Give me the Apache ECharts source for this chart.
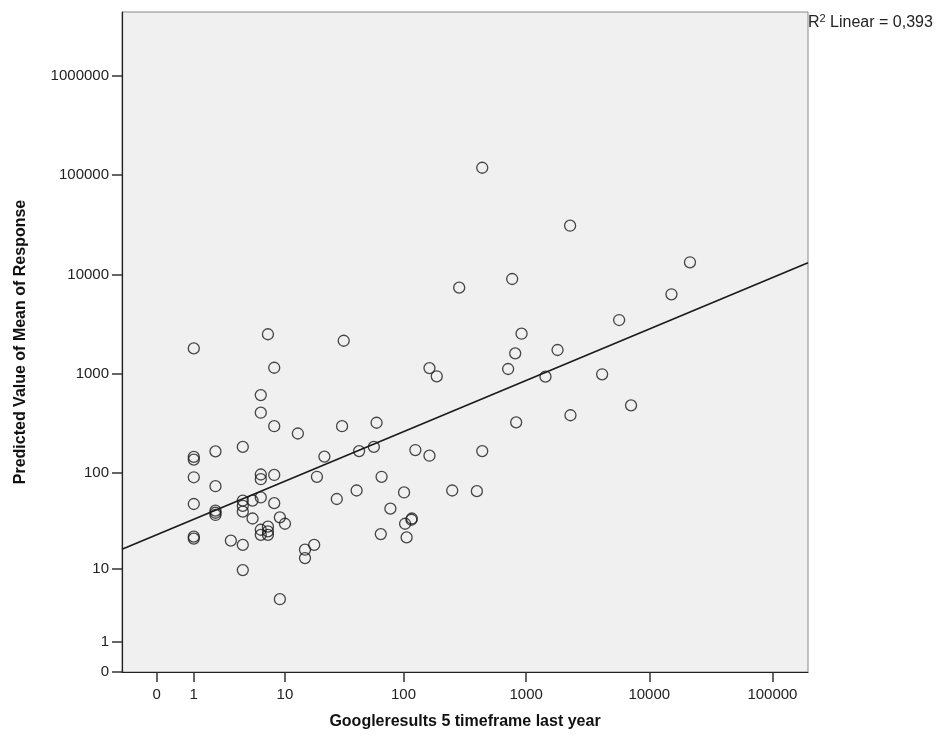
<!DOCTYPE html>
<html>
<head>
<meta charset="utf-8">
<script src="https://cdn.jsdelivr.net/npm/echarts@6/dist/echarts.min.js"></script>
<style>
html,body{margin:0;padding:0;background:#fff;}
#chart{width:940px;height:746px;}
</style>
</head>
<body>
<div id="chart"></div>
<script>
// raw values (both axes drawn as log10(v+1))
var googleResults = [1, 7, 32, 8, 6, 6, 8, 13, 31, 60, 163, 187, 4, 2, 1, 1, 1, 1, 1, 1,
    2, 2, 2, 2, 4, 4, 4, 5, 6, 6, 6, 8, 8, 5, 9, 10, 6, 6, 7, 7,
    7, 3, 4, 4, 9, 15, 15, 18, 22, 19, 28, 41, 43, 57, 66, 78, 65, 101, 103, 116,
    117, 106, 125, 163, 250, 397, 439, 439, 2274, 285, 769, 21400, 15140, 5690, 917, 814, 713, 1798, 1435, 4140,
    7110, 2290, 829];
var predictedMean = [1800, 2500, 2150, 1150, 610, 405, 296, 250, 296, 321, 1140, 943, 183, 165, 145, 136, 90, 48, 22, 21,
    73, 41, 39, 37, 52, 46, 40, 52, 56, 96, 86, 95, 49, 34, 35, 30, 26, 23, 28, 25,
    23, 20, 18, 9.6, 4.4, 16, 13, 18, 146, 91, 54, 66, 166, 183, 91, 43, 23.4, 63, 30, 33,
    34, 21.6, 170, 149, 66, 65, 166, 118300, 30900, 7350, 8990, 13240, 6310, 3475, 2530, 1605, 1117, 1734, 935, 988,
    481, 382, 324];
var xTicks = [0, 1, 10, 100, 1000, 10000, 100000];
var yTicks = [0, 1, 10, 100, 1000, 10000, 100000, 1000000];
// fit line in log space
var fitIntercept = 1.380;
var fitSlope = 0.5177;
var rSquared = '0,393';

function tr(v){ return Math.log10(v + 1); }

var xMin = -0.282, xMax = 5.289;
var yMin = 0, yMax = 6.64;

var points = googleResults.map(function(x, i){ return [tr(x), tr(predictedMean[i])]; });
var fitLine = [[xMin, fitIntercept + fitSlope * xMin], [xMax, fitIntercept + fitSlope * xMax]];

function tickLabel(v){ return String(Math.round(Math.pow(10, v) - 1)); }

var font = 'Liberation Sans, Arial, sans-serif';
var labelStyle = {color:'#222', fontSize:15, fontFamily:font};
var titleStyle = {color:'#111', fontSize:16, fontWeight:'bold', fontFamily:font};

var myChart = echarts.init(document.getElementById('chart'));
myChart.setOption({
    animation:false,
    backgroundColor:'#fff',
    grid:{
        left:122, right:132, top:12, bottom:74,
        show:true,
        backgroundColor:'#f0f0f0',
        borderColor:'#8a8a8a',
        borderWidth:1
    },
    xAxis:{
        type:'value',
        min:xMin, max:xMax,
        name:'Googleresults 5 timeframe last year',
        nameLocation:'middle',
        nameGap:42,
        nameTextStyle:titleStyle,
        axisLine:{onZero:false, lineStyle:{color:'#222', width:1.2}},
        axisTick:{show:true, length:10, customValues:xTicks.map(tr), lineStyle:{color:'#333', width:1.5}},
        axisLabel:Object.assign({customValues:xTicks.map(tr), formatter:tickLabel, margin:15}, labelStyle),
        splitLine:{show:false}
    },
    yAxis:{
        type:'value',
        min:yMin, max:yMax,
        name:'Predicted Value of Mean of Response',
        nameLocation:'middle',
        nameGap:93,
        nameTextStyle:titleStyle,
        axisLine:{onZero:false, lineStyle:{color:'#222', width:1.2}},
        axisTick:{show:true, length:10, customValues:yTicks.map(tr), lineStyle:{color:'#333', width:1.5}},
        axisLabel:Object.assign({customValues:yTicks.map(tr), formatter:tickLabel, margin:13}, labelStyle),
        splitLine:{show:false}
    },
    graphic:[{
        type:'text',
        left:808, top:13,
        style:{
            text:'{r|R}{s|2}{r| Linear = ' + rSquared + '}',
            rich:{
                r:{fontSize:16, fill:'#222', fontFamily:font},
                s:{fontSize:11, fill:'#222', fontFamily:font, padding:[0,0,8,0]}
            }
        }
    }],
    series:[{
        type:'scatter',
        data:points,
        symbol:'circle',
        symbolSize:11,
        itemStyle:{color:'rgba(0,0,0,0)', borderColor:'#1a1a1a', borderWidth:1.3},
        emphasis:{disabled:true},
        z:3
    },{
        type:'line',
        data:fitLine,
        showSymbol:false,
        lineStyle:{color:'#1a1a1a', width:1.6},
        clip:true,
        z:2
    }]
});
</script>
</body>
</html>
